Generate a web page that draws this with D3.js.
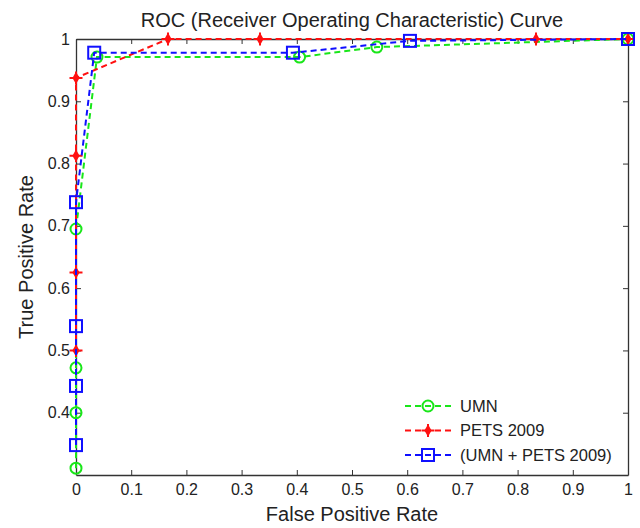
<!DOCTYPE html>
<html>
<head>
<meta charset="utf-8">
<script src="https://cdn.jsdelivr.net/npm/d3@7"></script>
<style>
  body { margin: 0; background: #fff; }
  text { font-family: "Liberation Sans", Arial, sans-serif; fill: #222; }
</style>
</head>
<body>
<div id="chart"></div>
<script>
// ROC points
const umnFpr = [0, 0, 0, 0, 0.038, 0.405, 0.545, 1];
const umnTpr = [0.311, 0.4, 0.472, 0.695, 0.971, 0.971, 0.987, 1];

const petsFpr = [0, 0, 0, 0, 1 / 6, 1 / 3, 5 / 6, 1];
const petsTpr = [0.5, 0.625, 0.8125, 0.9375, 1, 1, 1, 1];

const bothFpr = [0, 0, 0, 0, 0.033, 0.393, 0.605, 1];
const bothTpr = [0.348, 0.443, 0.539, 0.738, 0.978, 0.978, 0.997, 1];

const xTicks = [0, 0.1, 0.2, 0.3, 0.4, 0.5, 0.6, 0.7, 0.8, 0.9, 1];
const yTicks = [0.4, 0.5, 0.6, 0.7, 0.8, 0.9, 1];

const width = 640;
const height = 528;
const margin = { top: 39, right: 12, bottom: 53, left: 76 };

const series = [
  { name: "UMN", x: umnFpr, y: umnTpr, color: "#19e619", marker: "circle" },
  { name: "PETS 2009", x: petsFpr, y: petsTpr, color: "#ff1010", marker: "star" },
  { name: "(UMN + PETS 2009)", x: bothFpr, y: bothTpr, color: "#1010ff", marker: "square" }
];

const svg = d3
  .select("#chart")
  .append("svg")
  .attr("width", width)
  .attr("height", height);

const x = d3.scaleLinear().domain([0, 1]).range([margin.left, width - margin.right]);
const y = d3.scaleLinear().domain([0.3, 1]).range([height - margin.bottom, margin.top]);

const fmt = d => (d === 0 || d === 1 ? String(d) : d3.format(".1f")(d));

// axes, ticks pointing inward like matlab
svg.append("g")
  .attr("transform", "translate(0," + y(0.3) + ")")
  .call(d3.axisBottom(x).tickValues(xTicks).tickFormat(fmt).tickSizeInner(-5).tickSizeOuter(0).tickPadding(9))
  .call(g => g.selectAll("text").attr("font-size", 16));

svg.append("g")
  .attr("transform", "translate(0," + y(1) + ")")
  .call(d3.axisTop(x).tickValues(xTicks).tickFormat("").tickSizeInner(-5).tickSizeOuter(0));

svg.append("g")
  .attr("transform", "translate(" + x(0) + ",0)")
  .call(d3.axisLeft(y).tickValues(yTicks).tickFormat(fmt).tickSizeInner(-5).tickSizeOuter(0).tickPadding(6))
  .call(g => g.selectAll("text").attr("font-size", 16));

svg.append("g")
  .attr("transform", "translate(" + x(1) + ",0)")
  .call(d3.axisRight(y).tickValues(yTicks).tickFormat("").tickSizeInner(-5).tickSizeOuter(0));

svg.selectAll(".domain").attr("stroke", "#333").attr("stroke-width", 1.3);
svg.selectAll(".tick line").attr("stroke", "#333");
svg.selectAll(".tick text").attr("fill", "#222");

svg.append("defs").append("clipPath").attr("id", "plot")
  .append("rect")
  .attr("x", x(0) - 8).attr("y", y(1) - 8)
  .attr("width", x(1) - x(0) + 16).attr("height", y(0.3) - y(1) + 8);

const line = d3.line().x(d => x(d[0])).y(d => y(d[1]));

function drawMarker(g, type, color) {
  if (type === "circle") {
    g.append("circle").attr("r", 5.5).attr("fill", "none").attr("stroke", color).attr("stroke-width", 2);
  } else if (type === "square") {
    g.append("rect").attr("x", -6).attr("y", -6).attr("width", 12).attr("height", 12)
      .attr("fill", "none").attr("stroke", color).attr("stroke-width", 2);
  } else {
    g.append("path").attr("d", d3.symbol(d3.symbolDiamond, 44)()).attr("fill", color);
    g.append("path").attr("d", "M-6.5,0H6.5M0,-6.5V6.5").attr("stroke", color).attr("stroke-width", 2);
  }
}

const plot = svg.append("g").attr("clip-path", "url(#plot)");

series.forEach(s => {
  const pts = s.x.map((v, i) => [v, s.y[i]]);
  plot.append("path")
    .datum(pts)
    .attr("d", line)
    .attr("fill", "none")
    .attr("stroke", s.color)
    .attr("stroke-width", 2)
    .attr("stroke-dasharray", "6,4");
  pts.forEach(p => {
    const g = plot.append("g").attr("transform", "translate(" + x(p[0]) + "," + y(p[1]) + ")");
    drawMarker(g, s.marker, s.color);
  });
});

// legend
const legend = svg.append("g").attr("transform", "translate(405,406)");
series.forEach((s, i) => {
  const row = legend.append("g").attr("transform", "translate(0," + i * 24.5 + ")");
  row.append("line")
    .attr("x1", 0).attr("x2", 47)
    .attr("stroke", s.color).attr("stroke-width", 2).attr("stroke-dasharray", "6,4");
  drawMarker(row.append("g").attr("transform", "translate(23,0)"), s.marker, s.color);
  row.append("text").attr("x", 55).attr("dy", "0.35em").attr("font-size", 16.5).text(s.name);
});

svg.append("text")
  .attr("x", (x(0) + x(1)) / 2).attr("y", 27)
  .attr("text-anchor", "middle").attr("font-size", 20)
  .text("ROC (Receiver Operating Characteristic) Curve");

svg.append("text")
  .attr("x", (x(0) + x(1)) / 2).attr("y", 521)
  .attr("text-anchor", "middle").attr("font-size", 20)
  .text("False Positive Rate");

svg.append("text")
  .attr("transform", "translate(33," + (y(0.3) + y(1)) / 2 + ") rotate(-90)")
  .attr("text-anchor", "middle").attr("font-size", 20)
  .text("True Positive Rate");
</script>
</body>
</html>
